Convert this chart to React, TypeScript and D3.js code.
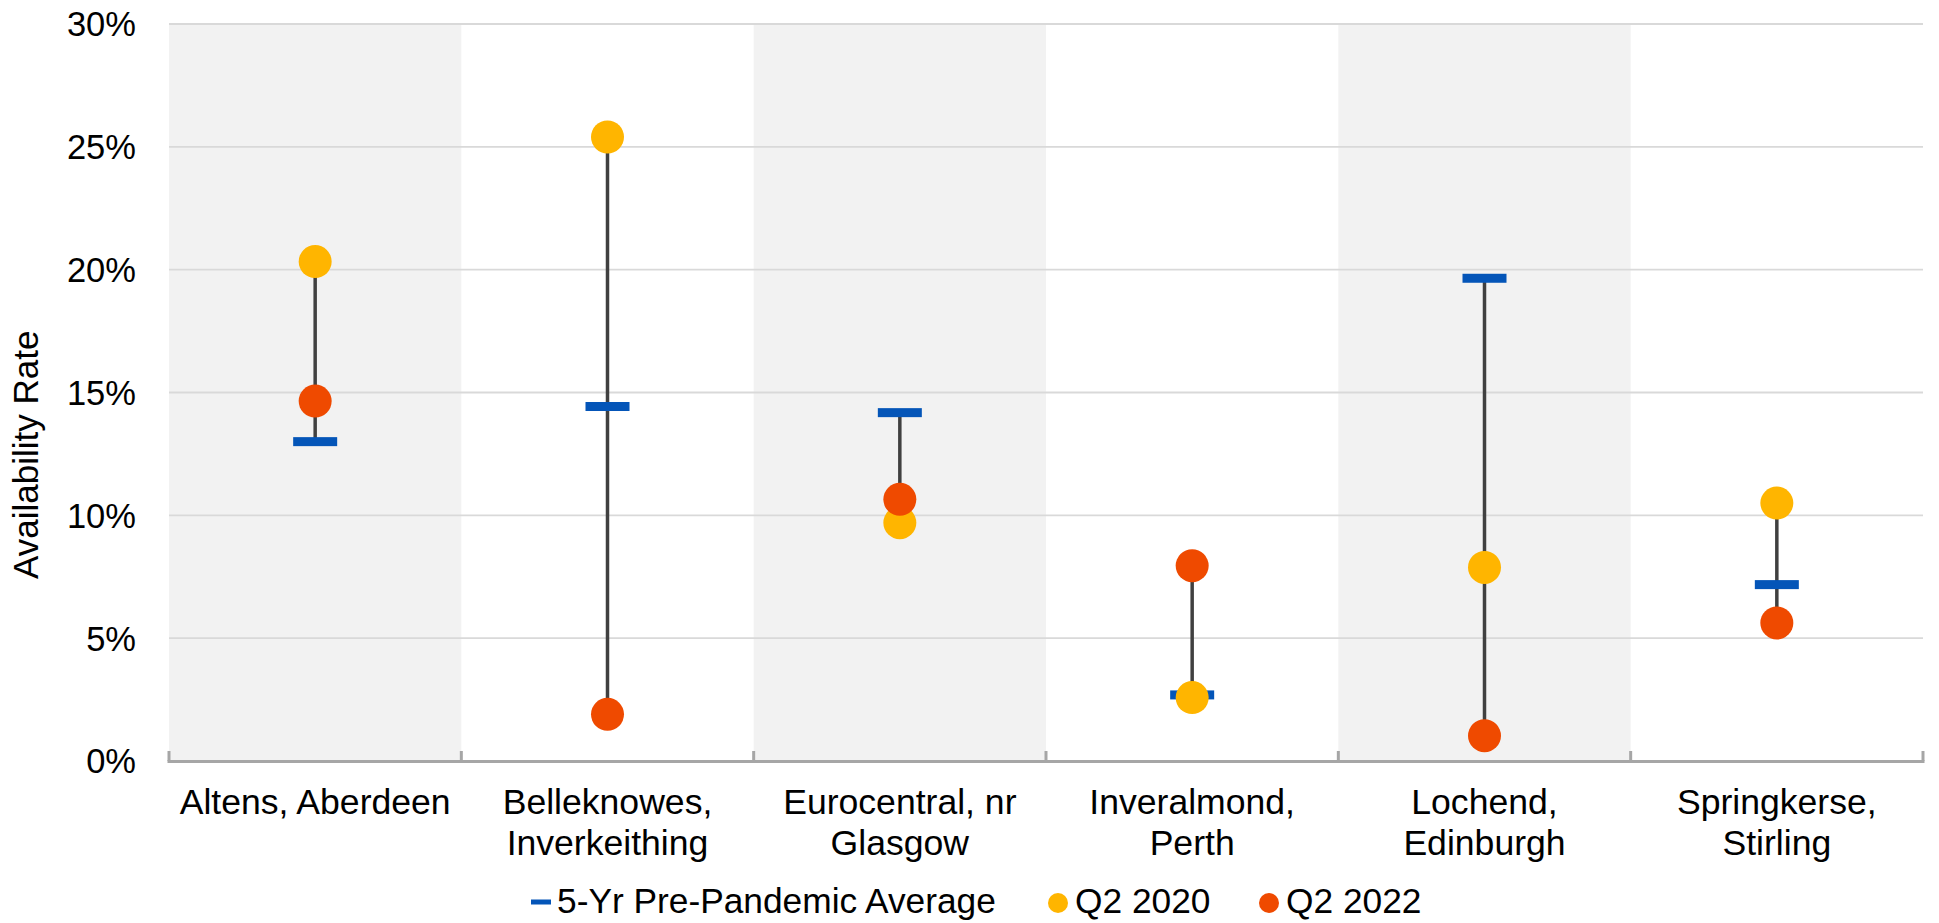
import { useMemo } from 'react';
import * as d3 from 'd3';

const W = 1939;
const H = 923;
const margin = { top: 24, right: 16, bottom: 162, left: 169 };

// categories (second line after the break)
const categories = [
    'Altens, Aberdeen',
    'Belleknowes, Inverkeithing',
    'Eurocentral, nr Glasgow',
    'Inveralmond, Perth',
    'Lochend, Edinburgh',
    'Springkerse, Stirling',
];
const categoryLines = [
    ['Altens, Aberdeen'],
    ['Belleknowes,', 'Inverkeithing'],
    ['Eurocentral, nr', 'Glasgow'],
    ['Inveralmond,', 'Perth'],
    ['Lochend,', 'Edinburgh'],
    ['Springkerse,', 'Stirling'],
];

// availability rates in %
const preAvg = [13.0, 14.43, 14.18, 2.69, 19.65, 7.18];
const q2020 = [20.33, 25.4, 9.7, 2.58, 7.88, 10.5];
const q2022 = [14.65, 1.9, 10.65, 7.95, 1.03, 5.62];

const yTicks = [0, 5, 10, 15, 20, 25, 30];

const COL_AVG = '#0455b8';
const COL_2020 = '#ffb500';
const COL_2022 = '#ef4a00';
const FONT = "'Liberation Sans', Arial, sans-serif";
const FS = 34.5;
const FS_CAT = 35.6;
const FS_LEG = 35.3;

export default function App() {
    const boundsWidth = W - margin.left - margin.right;
    const y0 = 761;

    const xScale = useMemo(() => d3.scaleBand<string>()
        .domain(categories)
        .range([margin.left, margin.left + boundsWidth])
        .padding(0), [boundsWidth]);

    const yScale = useMemo(() => d3.scaleLinear()
        .domain([0, 30])
        .range([y0, margin.top]), []);

    const bw = xScale.bandwidth();
    const boundaries = d3.range(categories.length + 1).map(i => margin.left + i * bw);

    return (
        <svg width={W} height={H} style={{ position: 'absolute', left: 0, top: 0, background: '#fff' }}
            fontFamily={FONT}>
            {/* alternating bands */}
            {categories.map((c, i) => i % 2 === 0 ? (
                <rect key={c} x={xScale(c)} y={margin.top} width={bw} height={y0 - margin.top} fill="#f2f2f2" />
            ) : null)}

            {/* gridlines */}
            {yTicks.filter(t => t > 0).map(t => (
                <line key={t} x1={margin.left} x2={margin.left + boundsWidth} y1={yScale(t)} y2={yScale(t)}
                    stroke="#d9d9d9" strokeWidth={1.8} />
            ))}

            {/* y tick labels */}
            {yTicks.map(t => (
                <text key={t} x={136} y={yScale(t)} dy="0.36em" textAnchor="end" fontSize={FS} fill="#000">
                    {`${t}%`}
                </text>
            ))}

            <text transform="translate(38,579) rotate(-90)" fontSize={35} fill="#000">Availability Rate</text>

            {/* x axis */}
            <line x1={margin.left - 1.5} x2={margin.left + boundsWidth + 1.5} y1={y0 + 0.5} y2={y0 + 0.5}
                stroke="#a6a6a6" strokeWidth={3} />
            {boundaries.map((b, i) => (
                <line key={i} x1={b} x2={b} y1={y0 - 10} y2={y0} stroke="#a6a6a6" strokeWidth={3} />
            ))}

            {categories.map((c, i) => (
                <text key={c} x={(xScale(c) || 0) + bw / 2} y={814} textAnchor="middle" fontSize={FS_CAT} fill="#000">
                    {categoryLines[i].map((l, j) => (
                        <tspan key={j} x={(xScale(c) || 0) + bw / 2} y={814 + j * 41}>{l}</tspan>
                    ))}
                </text>
            ))}

            {/* stems */}
            {categories.map((c, i) => {
                const vals = [preAvg[i], q2020[i], q2022[i]];
                const cx = (xScale(c) || 0) + bw / 2;
                return (
                    <line key={c} x1={cx} x2={cx} y1={yScale(d3.max(vals) || 0)} y2={yScale(d3.min(vals) || 0)}
                        stroke="#404040" strokeWidth={3.5} />
                );
            })}

            {/* pre-pandemic average dashes */}
            {categories.map((c, i) => {
                const cx = (xScale(c) || 0) + bw / 2;
                return <rect key={c} x={cx - 22} y={yScale(preAvg[i]) - 4.5} width={44} height={9} fill={COL_AVG} />;
            })}

            {categories.map((c, i) => (
                <circle key={c} cx={(xScale(c) || 0) + bw / 2} cy={yScale(q2020[i])} r={16.5} fill={COL_2020} />
            ))}
            {categories.map((c, i) => (
                <circle key={c} cx={(xScale(c) || 0) + bw / 2} cy={yScale(q2022[i])} r={16.5} fill={COL_2022} />
            ))}

            {/* legend */}
            <g fontSize={FS_LEG} fill="#000">
                <rect x={531} y={899.5} width={20} height={5} fill={COL_AVG} />
                <text x={557} y={913}>5-Yr Pre-Pandemic Average</text>
                <circle cx={1058} cy={903} r={10} fill={COL_2020} />
                <text x={1075} y={913}>Q2 2020</text>
                <circle cx={1269} cy={903} r={10} fill={COL_2022} />
                <text x={1286} y={913}>Q2 2022</text>
            </g>
        </svg>
    );
}
